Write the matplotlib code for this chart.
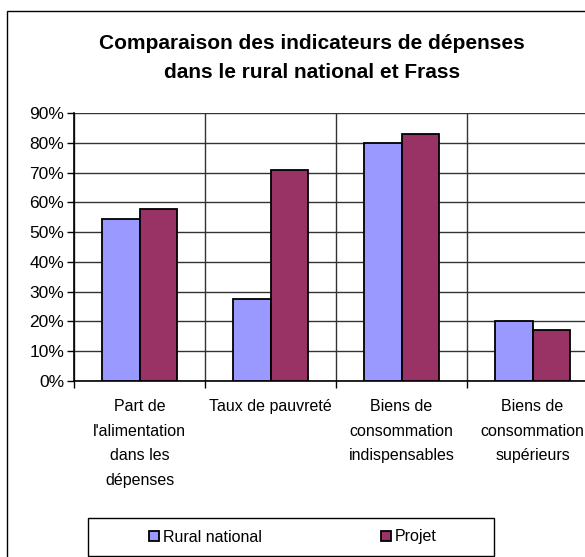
import numpy as np
import matplotlib.pyplot as plt
from matplotlib.patches import Rectangle
from matplotlib.ticker import FuncFormatter

categories = ["Part de\nl'alimentation\ndans les\ndépenses",
              "Taux de pauvreté",
              "Biens de\nconsommation\nindispensables",
              "Biens de\nconsommation\nsupérieurs"]
rural_national = [54.3, 27.4, 80.0, 20.2]
projet = [57.7, 70.9, 83.0, 17.1]
series_names = ["Rural national", "Projet"]
yticks = np.arange(0, 91, 10)

plt.rcParams['font.family'] = ['Liberation Sans', 'DejaVu Sans']

W, H = 585, 557
fig = plt.figure(figsize=(W / 100, H / 100), dpi=100)

# outer chart border (runs off the right and bottom edges)
fig.patches.append(Rectangle((7 / W, -0.05), 1.1, 1 - 11 / H + 0.05,
                             transform=fig.transFigure, fill=False,
                             edgecolor='black', linewidth=1))

ax = fig.add_axes([74 / W, 176 / H, 524 / W, 268 / H])

x = np.arange(len(categories)) + 0.5
bw = 0.29
ax.bar(x - bw / 2, rural_national, bw, color='#9999FF', edgecolor='black',
       linewidth=1.3, label=series_names[0], zorder=3)
ax.bar(x + bw / 2, projet, bw, color='#993366', edgecolor='black',
       linewidth=1.3, label=series_names[1], zorder=3)

ax.set_xlim(0, len(categories))
ax.set_ylim(0, 90)

ax.set_yticks(yticks)
ax.yaxis.set_major_formatter(FuncFormatter(lambda v, p: f"{int(v)}%"))
ax.tick_params(axis='y', labelsize=12.5, length=5, width=1, pad=2)

ax.set_xticks(np.arange(len(categories) + 1))
ax.set_xticklabels([])
ax.set_xticks(x, minor=True)
ax.set_xticklabels(categories, minor=True, fontsize=11.5, linespacing=1.8)
ax.tick_params(axis='x', which='major', length=5, width=1)
ax.tick_params(axis='x', which='minor', length=0, pad=13)

ax.grid(True, which='major', color='#333333', linewidth=1, zorder=0)
for s in ['top', 'right']:
    ax.spines[s].set_visible(False)
for s in ['left', 'bottom']:
    ax.spines[s].set_linewidth(1.2)

fig.text(312 / W, 1 - 58 / H, "Comparaison des indicateurs de dépenses\ndans le rural national et Frass",
         ha='center', va='center', fontsize=15, fontweight='bold', linespacing=1.7)

# legend box
fig.patches.append(Rectangle((88 / W, 1 / H), 406 / W, 38 / H,
                             transform=fig.transFigure, fill=False,
                             edgecolor='black', linewidth=1))
fig.legend(loc='center', ncol=2, bbox_to_anchor=(293 / W, 1 - 537 / H),
           frameon=False, fontsize=11.5, handlelength=0.6, handleheight=0.6,
           handletextpad=0.25, columnspacing=7.5)

fig.savefig("out.png", dpi=100)
